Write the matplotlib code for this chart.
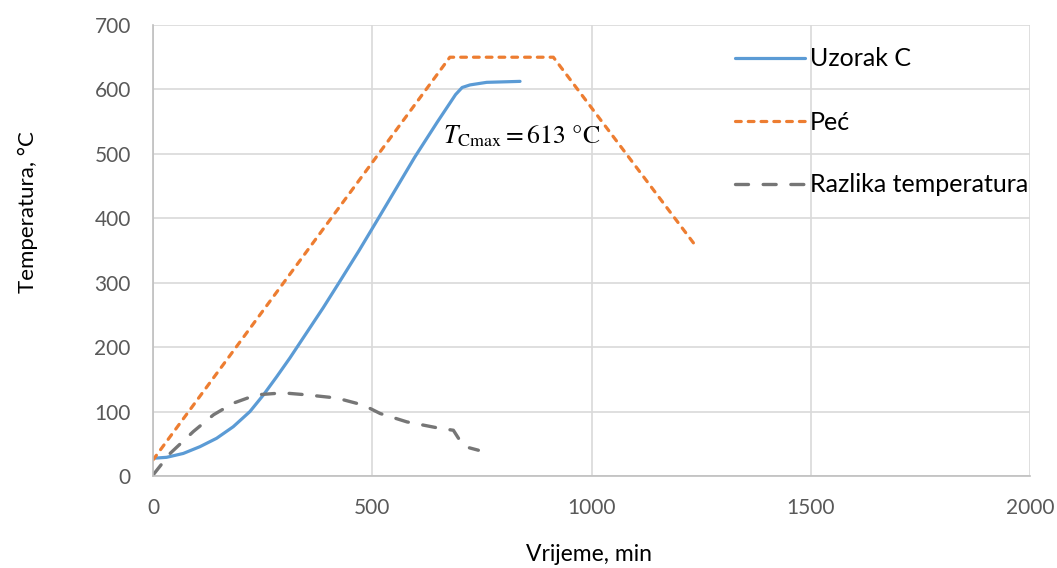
import matplotlib
matplotlib.use('Agg')
import matplotlib.pyplot as plt

# Uzorak C (temperatura uzorka)
t_uzorak = [0, 31, 69, 107, 145, 183, 221, 252, 282, 312, 350, 388, 426, 470, 514, 556, 597,
            648, 690, 705, 723, 761, 837]
T_uzorak = [27.5, 29, 35, 45.5, 58.5, 76.5, 100, 126, 154, 183, 222, 261, 302, 350, 400, 448, 495,
            549, 592, 603, 607, 611, 612.5]

# Peć (temperatura peći)
t_pec = [0, 677, 913, 1240]
T_pec = [25, 650, 650, 355]

# Razlika temperatura
t_razlika = [0, 39, 92, 138, 183, 236, 297, 350, 419, 480, 518, 579, 654, 685, 700, 720, 742]
T_razlika = [1.5, 35, 69, 95, 113, 126, 129, 126, 121, 110, 97, 84, 74, 71, 55, 44, 40]

plt.rcParams['font.family'] = 'Lato'
plt.rcParams['mathtext.fontset'] = 'stix'

fig = plt.figure(figsize=(10.57, 5.68), dpi=100)
ax = fig.add_axes([153 / 1057, 1 - 476 / 568, (1030 - 153) / 1057, (476 - 25) / 568])

ax.plot(t_uzorak, T_uzorak, color='#5B9BD5', lw=2.3, solid_capstyle='round',
        solid_joinstyle='round', label='Uzorak C')
ax.plot(t_pec, T_pec, color='#ED7D31', lw=2.3, dashes=(1.8, 2.2), dash_capstyle='round', label='Peć')
ax.plot(t_razlika, T_razlika, color='#767676', lw=2.4, dashes=(3.9, 4.4), dash_capstyle='round',
        label='Razlika temperatura')

ax.set_xlim(0, 2000)
ax.set_ylim(0, 700)
ax.set_xticks(range(0, 2001, 500))
ax.set_yticks(range(0, 701, 100))
ax.grid(True, color='#D9D9D9', lw=1.2)
ax.set_axisbelow(True)
for s in ['top', 'right']:
    ax.spines[s].set_visible(False)
for s in ['left', 'bottom']:
    ax.spines[s].set_color('#BFBFBF')
    ax.spines[s].set_linewidth(1.2)
ax.tick_params(length=0, labelsize=15, labelcolor='#595959', pad=16)

ax.set_xlabel('Vrijeme, min', fontsize=16.5)
ax.set_ylabel('Temperatura, °C', fontsize=16)
ax.xaxis.set_label_coords(0.497, -0.15)
ax.yaxis.set_label_coords(-0.131, 0.585)

ax.text(661, 517, r'$T_{\mathrm{Cmax}} = 613$ °C', fontsize=18.5, family='STIXGeneral',
        va='baseline', ha='left')

leg = ax.legend(loc='upper left', bbox_to_anchor=(722 / 1057, 1 - 35 / 568),
                bbox_transform=fig.transFigure, frameon=False, fontsize=18,
                handlelength=2.8, handletextpad=0.2, labelspacing=1.6, borderpad=0)

fig.savefig('out.png', dpi=100)
